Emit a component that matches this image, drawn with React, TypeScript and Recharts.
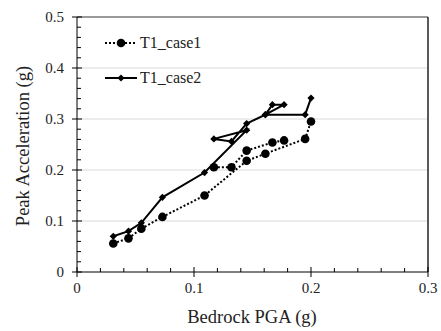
import React from 'react';
import { LineChart, Line, XAxis, YAxis, ReferenceLine } from 'recharts';

// ---- data ----
// T1_case1 : two runs of points (null = break in the line)
const case1X = [0.031, 0.044, 0.055, 0.073, 0.109, 0.145, 0.161, 0.195, 0.2, 0.117, 0.117, 0.132, 0.145, 0.167, 0.177];
const case1Y = [0.056, 0.066, 0.085, 0.108, 0.150, 0.218, 0.232, 0.261, 0.295, null, 0.2055, 0.2055, 0.238, 0.254, 0.258];
// T1_case2 : one connected path
const case2X = [0.031, 0.044, 0.055, 0.073, 0.109, 0.145, 0.117, 0.132, 0.145, 0.161, 0.167, 0.177, 0.161, 0.195, 0.2];
const case2Y = [0.070, 0.080, 0.0965, 0.1465, 0.195, 0.278, 0.261, 0.256, 0.291, 0.3085, 0.328, 0.328, 0.3085, 0.3085, 0.341];

const seriesNames = ['T1_case1', 'T1_case2'];
const xMajorTicks = [0, 0.1, 0.2, 0.3];
const xTickLabels = ['0', '0.1', '0.2', '0.3'];
const yMajorTicks = [0, 0.1, 0.2, 0.3, 0.4, 0.5];
const yTickLabels = ['0', '0.1', '0.2', '0.3', '0.4', '0.5'];
const gridY = [0.1, 0.2, 0.3, 0.4];
const xTitle = 'Bedrock PGA (g)';
const yTitle = 'Peak Acceleration (g)';

const case1Data = case1X.map((x, i) => ({ x, y: case1Y[i] }));
const case2Data = case2X.map((x, i) => ({ x, y: case2Y[i] }));

const minorTicks = (max: number) => {
  const out: number[] = [];
  for (let i = 0; i <= Math.round(max * 50); i++) out.push(Math.round(i * 2) / 100);
  return out;
};
const xTicksAll = minorTicks(0.3);
const yTicksAll = minorTicks(0.5);

const FONT = "'Liberation Serif', 'DejaVu Serif', serif";
const INK = '#000';
const TXT = '#222';

const labelFor = (v: number, majors: number[], labels: string[]) => {
  const idx = majors.findIndex((m) => Math.abs(m - v) < 1e-6);
  return idx >= 0 ? labels[idx] : null;
};

const XTick = (props: any) => {
  const { x, y, payload } = props;
  const lab = labelFor(payload.value, xMajorTicks, xTickLabels);
  if (lab === null) {
    return <line x1={x} x2={x} y1={y - 4} y2={y} stroke={INK} strokeWidth={1} />;
  }
  return (
    <g>
      <line x1={x} x2={x} y1={y - 5} y2={y + 5} stroke={INK} strokeWidth={1} />
      <text x={x} y={y + 21} textAnchor="middle" style={{ fontFamily: FONT, fontSize: 15 }} fill={TXT}>
        {lab}
      </text>
    </g>
  );
};

const YTick = (props: any) => {
  const { x, y, payload } = props;
  const lab = labelFor(payload.value, yMajorTicks, yTickLabels);
  if (lab === null) {
    return <line x1={x} x2={x + 4} y1={y} y2={y} stroke={INK} strokeWidth={1} />;
  }
  return (
    <g>
      <line x1={x - 5} x2={x + 5} y1={y} y2={y} stroke={INK} strokeWidth={1} />
      <text x={x - 13} y={y + 5} textAnchor="end" style={{ fontFamily: FONT, fontSize: 15 }} fill={TXT}>
        {lab}
      </text>
    </g>
  );
};

const CircleDot = (props: any) => {
  const { cx, cy, index } = props;
  if (cx == null || cy == null || isNaN(cx) || isNaN(cy)) return <g key={`c${index}`} />;
  return <circle key={`c${index}`} cx={cx} cy={cy} r={4.3} fill={INK} stroke="none" />;
};

const DiamondDot = (props: any) => {
  const { cx, cy, index } = props;
  if (cx == null || cy == null || isNaN(cx) || isNaN(cy)) return <g key={`d${index}`} />;
  const s = 3.6;
  return (
    <polygon
      key={`d${index}`}
      points={`${cx},${cy - s} ${cx + s},${cy} ${cx},${cy + s} ${cx - s},${cy}`}
      fill={INK}
      stroke="none"
    />
  );
};

const LegendBox = () => (
  <div style={{ position: 'absolute', left: 103, top: 33, width: 140, height: 60, fontFamily: FONT, fontSize: 16, color: TXT }}>
    {seriesNames.map((name, i) => (
      <div key={name} style={{ position: 'absolute', left: 0, top: i * 35, height: 20, display: 'flex', alignItems: 'center' }}>
        <svg width={36} height={20} style={{ display: 'block' }}>
          {i === 0 ? (
            <>
              <line x1={2} x2={34} y1={10} y2={10} stroke={INK} strokeWidth={2} strokeDasharray="2 2" />
              <circle cx={18} cy={10} r={4.3} fill={INK} />
            </>
          ) : (
            <>
              <line x1={2} x2={34} y1={10} y2={10} stroke={INK} strokeWidth={2} />
              <polygon points="18,6.4 21.6,10 18,13.6 14.4,10" fill={INK} />
            </>
          )}
        </svg>
        <span style={{ marginLeft: 1, lineHeight: '20px', whiteSpace: 'nowrap' }}>{name}</span>
      </div>
    ))}
  </div>
);

export default function App() {
  return (
    <div style={{ position: 'absolute', left: 0, top: 0, width: 441, height: 331, background: '#fff' }}>
      <LineChart width={441} height={331} margin={{ top: 17, right: 13, left: 0, bottom: 0 }}>
        {gridY.map((g) => (
          <ReferenceLine key={g} y={g} stroke="#d9d9d9" strokeWidth={1} />
        ))}
        <ReferenceLine y={0.5} stroke="#9a9a9a" strokeWidth={2} />
        <ReferenceLine x={0.3} stroke="#222" strokeWidth={1.5} />
        <XAxis
          type="number"
          dataKey="x"
          domain={[0, 0.3]}
          ticks={xTicksAll}
          interval={0}
          allowDataOverflow
          height={59}
          tickSize={0}
          tickMargin={0}
          tickLine={false}
          axisLine={{ stroke: INK, strokeWidth: 1 }}
          tick={<XTick />}
          label={{
            content: () => (
              <text x={252} y={323} textAnchor="middle" style={{ fontFamily: FONT, fontSize: 18.5 }} fill={TXT}>
                {xTitle}
              </text>
            ),
          }}
        />
        <YAxis
          type="number"
          domain={[0, 0.5]}
          ticks={yTicksAll}
          interval={0}
          allowDataOverflow
          width={77}
          tickSize={0}
          tickMargin={0}
          tickLine={false}
          axisLine={{ stroke: INK, strokeWidth: 1 }}
          tick={<YTick />}
          label={{
            content: () => (
              <text
                x={23}
                y={146}
                transform="rotate(-90, 23, 146)"
                textAnchor="middle"
                dominantBaseline="central"
                style={{ fontFamily: FONT, fontSize: 18.5 }}
                fill={TXT}
              >
                {yTitle}
              </text>
            ),
          }}
        />
        <Line
          data={case1Data}
          dataKey="y"
          name={seriesNames[0]}
          type="linear"
          stroke={INK}
          strokeWidth={2}
          strokeDasharray="2 2"
          dot={<CircleDot />}
          activeDot={false}
          isAnimationActive={false}
          connectNulls={false}
        />
        <Line
          data={case2Data}
          dataKey="y"
          name={seriesNames[1]}
          type="linear"
          stroke={INK}
          strokeWidth={2}
          dot={<DiamondDot />}
          activeDot={false}
          isAnimationActive={false}
          connectNulls={false}
        />
      </LineChart>
      <LegendBox />
    </div>
  );
}
